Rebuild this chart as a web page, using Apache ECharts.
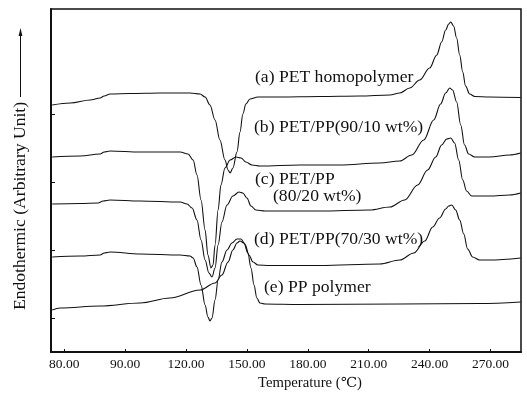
<!DOCTYPE html>
<html>
<head>
<meta charset="utf-8">
<script src="https://cdn.jsdelivr.net/npm/echarts@6/dist/echarts.min.js"></script>
<style>
  html, body { margin: 0; padding: 0; background: #fff; }
  #chart { width: 527px; height: 403px; }
</style>
</head>
<body>
<div id="chart"></div>
<script>
// DSC heating scans, temperature (°C) vs. heat flow (arbitrary units, curves offset)
const curveA = [[54.1,247],[63.0,249],[72.8,252],[77.7,254],[79.7,256],[82.6,258],[92.5,258.5],[107.2,259],[122.0,259],[126.9,258],[129.4,255],[131.8,247],[134.3,232],[136.7,212],[139.2,192],[140.7,182],[141.7,179],[143.1,184],[145.1,200],[146.6,220],[148.0,238],[149.5,248],[151.5,253],[155.4,255],[166.2,255],[185.9,255.5],[205.6,256],[220.4,257],[225.3,259],[230.2,264],[235.1,272],[240.0,284],[243.5,297],[245.9,310],[247.9,322],[249.4,328],[250.4,330],[251.8,326],[253.3,314],[254.8,297],[256.3,280],[257.7,266],[259.7,258],[262.2,255.5],[269.5,255],[284.8,254.5]];
const curveB = [[54.1,195],[67.9,196],[77.7,198],[79.7,200],[82.6,201],[97.4,200],[117.1,200],[121.0,198],[123.5,192],[125.4,177],[127.4,152],[129.4,122],[130.8,97],[132.3,84],[133.3,87],[134.3,107],[135.8,142],[137.2,167],[139.2,184],[141.7,192],[144.6,195],[147.1,194],[149.5,190],[152.5,187],[156.4,186],[176.1,187],[195.8,187],[215.4,189],[225.3,191],[231.2,197],[237.1,212],[242.0,232],[245.4,248],[247.9,259],[249.9,264],[251.3,262],[253.3,250],[255.3,227],[257.2,207],[259.2,198],[262.2,195],[269.5,195],[279.4,197],[284.8,199]];
const curveC = [[54.1,148],[67.9,148.5],[76.7,149],[79.2,151],[82.6,152],[97.4,151],[117.1,150],[120.5,148],[123.0,144],[125.4,132],[127.4,112],[129.4,92],[131.3,79],[132.8,75],[134.3,84],[135.8,107],[137.7,130],[140.2,147],[143.1,156],[146.1,160],[148.0,159],[150.0,154],[152.0,146],[154.4,142],[158.9,141],[185.9,141],[210.5,142],[220.4,145],[227.7,152],[234.1,167],[239.0,182],[243.0,195],[245.9,207],[248.4,213],[250.4,214],[252.3,209],[254.3,192],[256.3,172],[258.2,161],[260.7,156],[269.5,156],[279.4,157],[284.8,159]];
const curveD = [[54.1,95],[67.9,96],[77.7,97],[79.7,99],[82.6,100],[97.4,98],[117.1,97],[122.0,96],[123.5,94],[125.4,85],[127.4,67],[129.4,47],[130.8,35],[131.8,31],[132.8,34],[134.3,52],[135.8,72],[137.7,90],[140.2,102],[142.6,109],[145.1,113],[147.1,113],[149.0,108],[151.0,97],[153.0,90],[155.4,87],[161.3,86.5],[185.9,86.5],[215.4,88],[225.3,92],[232.2,99],[237.6,111],[241.5,125],[244.9,134],[247.9,143],[249.4,146],[250.9,147],[252.8,142],[254.8,132],[256.8,118],[258.7,103],[261.2,95],[264.6,92],[269.5,92],[284.8,94]];
const curveE = [[54.1,42],[58.0,44],[77.7,46],[97.4,49],[112.1,54],[126.9,62],[134.3,69],[137.7,77],[140.7,90],[143.1,102],[145.1,109],[146.6,111],[148.5,109],[150.5,99],[152.0,84],[153.5,67],[154.9,54],[156.4,49],[158.9,48],[176.1,47.5],[225.3,48],[264.6,48.5],[284.8,50]];

const seriesNames = ['(a) PET homopolymer', '(b) PET/PP(90/10 wt%)', '(c) PET/PP (80/20 wt%)', '(d) PET/PP(70/30 wt%)', '(e) PP polymer'];
const tempTicks = [60, 90, 120, 150, 180, 210, 240, 270];
const tempTickLabels = ['80.00', '90.00', '120.00', '150.00', '180.00', '210.00', '240.00', '270.00'];
const flowTicks = [34, 102, 170, 238];

const SERIF = '"Liberation Serif", "DejaVu Serif", serif';
const INK = '#111';

const chart = echarts.init(document.getElementById('chart'), null, { renderer: 'canvas' });

const curves = [curveA, curveB, curveC, curveD, curveE];
const series = curves.map((c, i) => ({
  name: seriesNames[i],
  type: 'line',
  data: c,
  showSymbol: false,
  smooth: 0.35,
  smoothMonotone: 'x',
  lineStyle: { color: INK, width: 1.1 },
  silent: true,
  animation: false
}));

function label(text, x, y) {
  return {
    type: 'text', x: x, y: y, scaleX: 1.1, silent: true,
    style: { text: text, font: '16px ' + SERIF, fill: INK, textVerticalAlign: 'middle', textAlign: 'left' }
  };
}

chart.setOption({
  backgroundColor: '#fff',
  animation: false,
  grid: { left: 51, right: 6, top: 9, bottom: 51, show: true, borderColor: INK, borderWidth: 1.5 },
  xAxis: {
    type: 'value', min: 53.5, max: 285,
    axisLine: { show: true, lineStyle: { color: INK, width: 2 } },
    axisTick: { show: true, inside: true, length: 3, customValues: tempTicks, lineStyle: { color: INK, width: 1 } },
    axisLabel: {
      show: true, customValues: tempTicks, margin: 5,
      formatter: v => tempTickLabels[tempTicks.indexOf(v)],
      fontFamily: SERIF, fontSize: 13.5, color: INK
    },
    splitLine: { show: false }
  },
  yAxis: {
    type: 'value', min: 0, max: 343,
    axisLine: { show: true, lineStyle: { color: INK, width: 2 } },
    axisTick: { show: true, inside: true, length: 4, customValues: flowTicks, lineStyle: { color: INK, width: 1 } },
    axisLabel: { show: false },
    splitLine: { show: false }
  },
  series: series,
  graphic: [
    label('(a) PET homopolymer', 255, 78),
    label('(b) PET/PP(90/10 wt%)', 254, 128),
    label('(c) PET/PP', 255, 180),
    label('(80/20 wt%)', 273, 197),
    label('(d) PET/PP(70/30 wt%)', 254, 240),
    label('(e) PP polymer', 264, 288),
    {
      type: 'text', x: 310, y: 383, scaleX: 1.05, silent: true,
      style: { text: 'Temperature (℃)', font: '14px ' + SERIF, fill: INK, textAlign: 'center', textVerticalAlign: 'middle' }
    },
    {
      type: 'text', x: 20.5, y: 206, rotation: Math.PI / 2, scaleX: 1.1, silent: true,
      style: { text: 'Endothermic (Arbitrary Unit)', font: '16px ' + SERIF, fill: INK, textAlign: 'center', textVerticalAlign: 'middle' }
    },
    { type: 'line', silent: true, shape: { x1: 20.5, y1: 97, x2: 20.5, y2: 33 }, style: { stroke: INK, lineWidth: 1 } },
    { type: 'polygon', silent: true, shape: { points: [[20.5, 28], [18.6, 36], [22.4, 36]] }, style: { fill: INK } }
  ]
});
</script>
</body>
</html>
